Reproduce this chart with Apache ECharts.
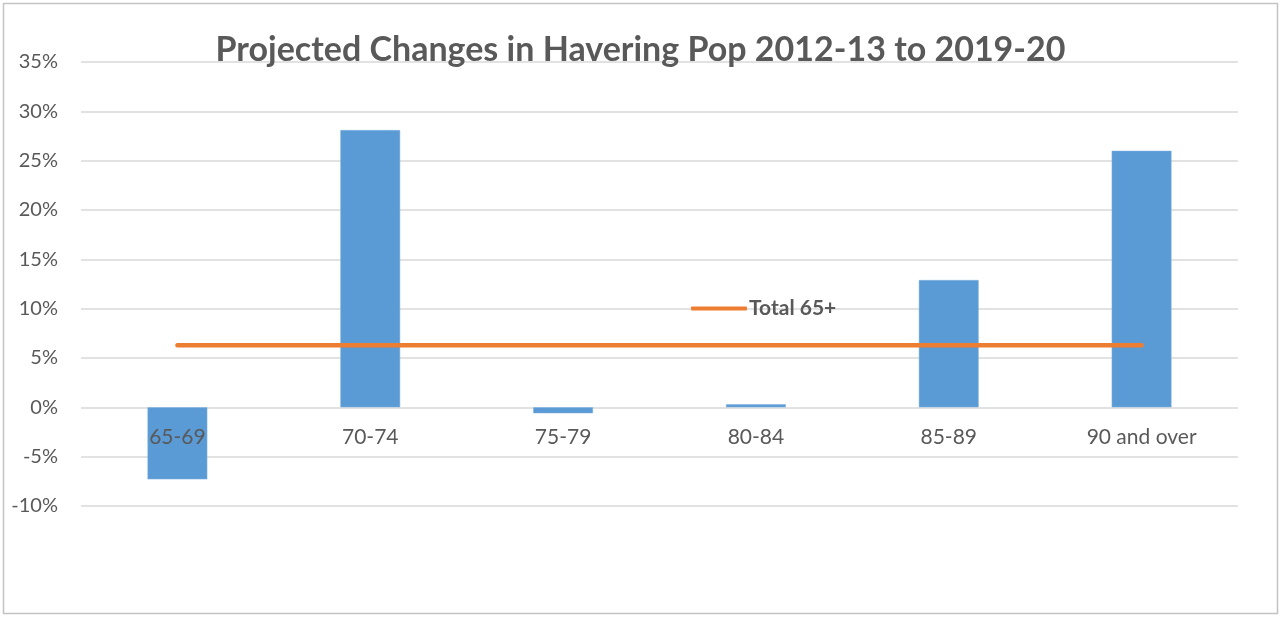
<!DOCTYPE html>
<html>
<head>
<meta charset="utf-8">
<title>Projected Changes in Havering Pop 2012-13 to 2019-20</title>
<script src="https://cdn.jsdelivr.net/npm/echarts@6/dist/echarts.min.js"></script>
<style>
  html, body { margin: 0; padding: 0; background: #ffffff; }
  #chart { width: 1281px; height: 617px; }
</style>
</head>
<body>
<div id="chart"></div>
<script>
// Age bands and projected percentage change per band
const categories = ['65-69', '70-74', '75-79', '80-84', '85-89', '90 and over'];
const changeByAge = [-7.3, 28.1, -0.6, 0.3, 12.9, 26.0];
// Overall change for everyone aged 65 and over, repeated across the bands
const total65Plus = [6.3, 6.3, 6.3, 6.3, 6.3, 6.3];
// Value axis range and step (percent)
const yMin = -10;
const yMax = 35;
const yStep = 5;

const textColor = '#595959';
const gridColor = '#D9D9D9';
const fontFamily = 'Lato, "Open Sans", sans-serif';

const chartHeight = 617;
const gridTop = 62;
const gridBottom = 111;
const plotHeight = chartHeight - gridTop - gridBottom;
// Lift the category axis from the bottom of the plot up to the 0% line
const zeroOffset = -plotHeight * (0 - yMin) / (yMax - yMin);

const chart = echarts.init(document.getElementById('chart'), null, { renderer: 'canvas' });

chart.setOption({
  backgroundColor: '#ffffff',
  animation: false,
  textStyle: { fontFamily: fontFamily, color: textColor },
  title: {
    text: 'Projected Changes in Havering Pop 2012-13 to 2019-20',
    left: 'center',
    top: 28,
    textStyle: { fontFamily: fontFamily, fontWeight: 'bold', fontSize: 34, color: textColor }
  },
  legend: {
    left: 686,
    top: 293,
    itemWidth: 56,
    itemHeight: 4,
    itemGap: 4,
    icon: 'roundRect',
    data: ['Total 65+'],
    textStyle: { fontFamily: fontFamily, fontWeight: 'bold', fontSize: 21, color: textColor, padding: [0, 0, 0, -3] }
  },
  graphic: [{
    type: 'rect',
    silent: true,
    shape: { x: 3.5, y: 3.5, width: 1274, height: 610 },
    style: { fill: 'none', stroke: '#C4C4C4', lineWidth: 1.5 }
  }],
  grid: {
    left: 81,
    right: 43,
    top: gridTop,
    bottom: gridBottom,
    containLabel: false
  },
  xAxis: {
    type: 'category',
    data: categories,
    position: 'bottom',
    offset: zeroOffset,
    axisLine: { show: false },
    axisTick: { show: false },
    axisLabel: { margin: 19, fontFamily: fontFamily, fontSize: 21, color: textColor },
    z: 5
  },
  yAxis: {
    type: 'value',
    min: yMin,
    max: yMax,
    interval: yStep,
    axisLine: { show: false },
    axisTick: { show: false },
    splitLine: { show: true, lineStyle: { color: gridColor, width: 1.5 } },
    axisLabel: {
      margin: 23,
      fontFamily: fontFamily,
      fontSize: 20,
      color: textColor,
      formatter: '{value}%'
    }
  },
  series: [
    {
      name: 'Change by age',
      type: 'bar',
      data: changeByAge,
      barWidth: '31%',
      itemStyle: { color: '#5B9BD5', borderColor: '#7FB0E0', borderWidth: 0.5 },
      z: 2
    },
    {
      name: 'Total 65+',
      type: 'line',
      data: total65Plus,
      symbol: 'none',
      lineStyle: { color: '#ED7D31', width: 4.5, cap: 'round' },
      itemStyle: { color: '#ED7D31' },
      z: 3
    }
  ]
});
</script>
</body>
</html>
